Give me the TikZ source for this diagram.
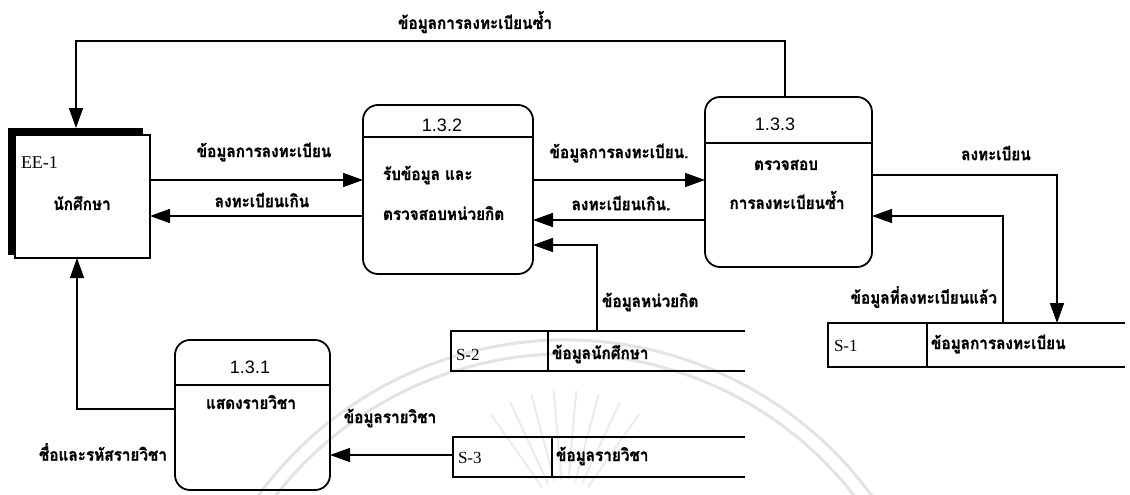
\documentclass[tikz,border=0pt]{standalone}
\usepackage{fontspec}
\setmainfont{Liberation Serif}
\newfontfamily\thaifont[Script=Thai,BoldFeatures={FakeBold=1.2}]{Loma}
\newfontfamily\numfont{Liberation Sans}
\usetikzlibrary{arrows.meta}
% Thai label text: heavy Loma, slightly condensed
\newcommand{\thlabel}[1]{\scalebox{0.9}[1]{\fontsize{17}{20}\selectfont\thaifont\bfseries #1}}

\begin{document}
\begin{tikzpicture}[x=1pt,y=-1pt,
  every node/.style={inner sep=0pt,outer sep=0pt},
  link/.style={line width=1.6pt},
  flow/.style={line width=1.6pt,-{Triangle[length=20pt,width=14pt]}},
  proc/.style={draw,line width=1.8pt,rounded corners=15pt},
  pid/.style={font=\fontsize{18}{20}\selectfont\numfont},
  sid/.style={font=\fontsize{17}{19}\selectfont},
  sealline/.style={gray!22,line width=3pt}
]
\useasboundingbox (0,0) rectangle (1130,495);

% faint seal in the background
\draw[sealline] (565,720) ++(200:380) arc[start angle=200,end angle=340,radius=380];
\draw[sealline] (565,720) ++(200:366) arc[start angle=200,end angle=340,radius=366];
\foreach \a in {235,245,...,305}
  \draw[gray!16,line width=2pt] (565,520) ++(\a:40) -- ++(\a:90);

% external entity EE-1 with its shadow
\node[fill=black,minimum width=135pt,minimum height=127pt] (eesh) at (75.5,191.5) {};
\node[draw,fill=white,line width=1.2pt,minimum width=135pt,minimum height=123pt] (ee) at (82.5,196.5) {};
\node[anchor=west,font=\fontsize{18}{20}\selectfont] (eeid) at (21,163) {EE-1};
\node (eename) at (82,203) {\thlabel{นักศึกษา}};

% processes
\node[proc,minimum width=170pt,minimum height=169pt] (p132) at (448,189.5) {};
\draw[link] (p132.west |- 0,137) -- (p132.east |- 0,137);
\node[pid] (p132id) at (442,125) {1.3.2};
\node[anchor=west] (p132a) at (383,175) {\thlabel{รับข้อมูล และ}};
\node[anchor=west] (p132b) at (383,213) {\thlabel{ตรวจสอบหน่วยกิต}};

\node[proc,minimum width=167pt,minimum height=170pt] (p133) at (788.5,182) {};
\draw[link] (p133.west |- 0,143) -- (p133.east |- 0,143);
\node[pid] (p133id) at (775,124) {1.3.3};
\node (p133a) at (786,165) {\thlabel{ตรวจสอบ}};
\node (p133b) at (787,200) {\thlabel{การลงทะเบียนซ้ำ}};

\node[proc,minimum width=155pt,minimum height=150pt] (p131) at (252.5,415) {};
\draw[link] (p131.west |- 0,385) -- (p131.east |- 0,385);
\node[pid] (p131id) at (250,367) {1.3.1};
\node (p131a) at (251,402) {\thlabel{แสดงรายวิชา}};

% data stores (open on the right)
\node[minimum width=294pt,minimum height=40pt] (s2) at (598,351) {};
\draw[link] (s2.north east) -- (s2.north west) -- (s2.south west) -- (s2.south east);
\draw[link] (548,0 |- s2.north) -- (548,0 |- s2.south);
\node[sid,anchor=west] (s2id) at (456,355) {S-2};
\node[anchor=west] (s2name) at (552,354) {\thlabel{ข้อมูลนักศึกษา}};

\node[minimum width=292pt,minimum height=40pt] (s3) at (599,457) {};
\draw[link] (s3.north east) -- (s3.north west) -- (s3.south west) -- (s3.south east);
\draw[link] (552,0 |- s3.north) -- (552,0 |- s3.south);
\node[sid,anchor=west] (s3id) at (458,458) {S-3};
\node[anchor=west] (s3name) at (556,456) {\thlabel{ข้อมูลรายวิชา}};

\node[minimum width=297pt,minimum height=44pt] (s1) at (976.5,345) {};
\draw[link] (s1.north east) -- (s1.north west) -- (s1.south west) -- (s1.south east);
\draw[link] (927,0 |- s1.north) -- (927,0 |- s1.south);
\node[sid,anchor=west] (s1id) at (834,346) {S-1};
\node[anchor=west] (s1name) at (931,344) {\thlabel{ข้อมูลการลงทะเบียน}};

% data flows
\coordinate (t1) at (785,41);
\coordinate (t2) at (76,41);
\draw[flow] (t1 |- p133.north) -- (t1) -- (t2) -- (t2 |- eesh.north);
\node (f1) at (475,22) {\thlabel{ข้อมูลการลงทะเบียนซ้ำ}};

\draw[flow] (ee.east |- 0,180) -- (p132.west |- 0,180);
\node (f2) at (264,152) {\thlabel{ข้อมูลการลงทะเบียน}};
\draw[flow] (p132.west |- 0,216) -- (ee.east |- 0,216);
\node (f3) at (262,200) {\thlabel{ลงทะเบียนเกิน}};

\draw[flow] (p132.east |- 0,180) -- (p133.west |- 0,180);
\node (f4) at (619,153) {\thlabel{ข้อมูลการลงทะเบียน.}};
\draw[flow] (p133.west |- 0,220) -- (p132.east |- 0,220);
\node (f5) at (621,203) {\thlabel{ลงทะเบียนเกิน.}};

\coordinate (k) at (597,245);
\draw[flow] (k |- s2.north) -- (k) -- (k -| p132.east);
\node[anchor=west] (f6) at (602,302) {\thlabel{ข้อมูลหน่วยกิต}};

\coordinate (m) at (77,409);
\draw[flow] (m -| p131.west) -- (m) -- (m |- ee.south);
\node (f7) at (103,452) {\thlabel{ชื่อและรหัสรายวิชา}};

\draw[flow] (s3.west |- 0,455) -- (p131.east |- 0,455);
\node (f8) at (390,418) {\thlabel{ข้อมูลรายวิชา}};

\coordinate (n) at (1057,175);
\draw[flow] (n -| p133.east) -- (n) -- (n |- s1.north);
\node (f9) at (996,153) {\thlabel{ลงทะเบียน}};

\coordinate (q) at (1003,216);
\draw[flow] (q |- s1.north) -- (q) -- (q -| p133.east);
\node[anchor=east] (f10) at (997,297) {\thlabel{ข้อมูลที่ลงทะเบียนแล้ว}};
\end{tikzpicture}
\end{document}
